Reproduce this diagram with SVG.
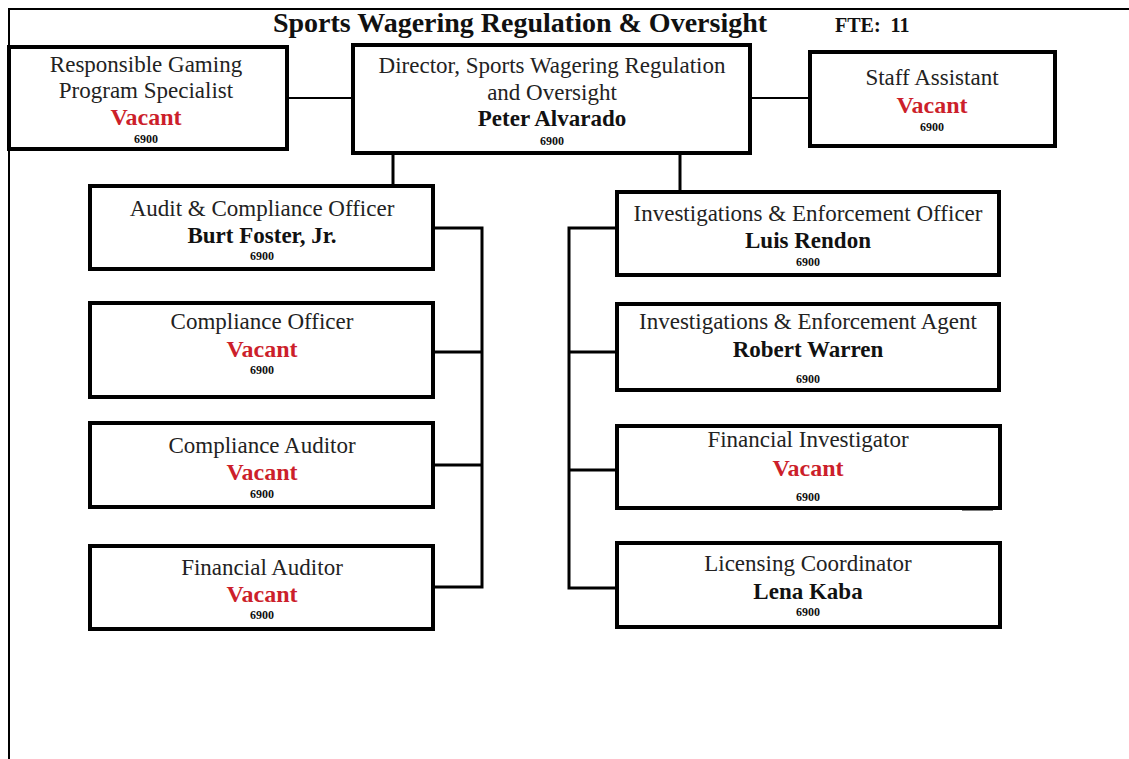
<svg xmlns="http://www.w3.org/2000/svg" width="1129" height="759" viewBox="0 0 1129 759">
<style>
.box{fill:#fff;stroke:#000;stroke-width:4}
.t{font-family:"Liberation Serif","Times New Roman",serif;font-size:23px;fill:#222;text-anchor:middle}
.n{font-family:"Liberation Serif","Times New Roman",serif;font-size:23px;font-weight:bold;fill:#111;text-anchor:middle}
.v{font-family:"Liberation Serif","Times New Roman",serif;font-size:24px;font-weight:bold;fill:#cc1f2b;text-anchor:middle}
.c{font-family:"Liberation Serif","Times New Roman",serif;font-size:12px;font-weight:bold;fill:#111;text-anchor:middle}
.ln{fill:none;stroke:#000;stroke-width:3}
.thin{fill:none;stroke:#000;stroke-width:2}
</style>
<rect width="1129" height="759" fill="#fff"/>
<g id="frame">
<path d="M1129 9 H9 V759" fill="none" stroke="#000" stroke-width="2"/>
</g>
<g id="title">
<text x="520" y="32" style="font-family:'Liberation Serif','Times New Roman',serif;font-size:28px;font-weight:bold;fill:#111;text-anchor:middle">Sports Wagering Regulation &amp; Oversight</text>
<text x="835" y="32" xml:space="preserve" style="font-family:'Liberation Serif','Times New Roman',serif;font-size:20px;font-weight:bold;fill:#111">FTE:  11</text>
</g>
<g id="connectors">
<line class="thin" x1="287" y1="98" x2="353" y2="98"/>
<line class="thin" x1="750" y1="98" x2="810" y2="98"/>
<line class="ln" x1="393" y1="153" x2="393" y2="186"/>
<line class="ln" x1="680" y1="153" x2="680" y2="192"/>
<path class="ln" d="M433 228 H482 V587 H433 M433 352 H482 M433 465 H482"/>
<path class="ln" d="M617 228 H569 V588 H617 M617 352 H569 M617 470 H569"/>
<line class="ln" x1="962" y1="509" x2="993" y2="509"/>
</g>
<g id="rg">
<rect class="box" x="9" y="47" width="278" height="102"/>
<text class="t" x="146" y="72">Responsible Gaming</text>
<text class="t" x="146" y="98">Program Specialist</text>
<text class="v" x="146" y="125">Vacant</text>
<text class="c" x="146" y="143">6900</text>
</g>
<g id="director">
<rect class="box" x="353" y="45" width="397" height="108"/>
<text class="t" x="552" y="73">Director, Sports Wagering Regulation</text>
<text class="t" x="552" y="100">and Oversight</text>
<text class="n" x="552" y="126">Peter Alvarado</text>
<text class="c" x="552" y="145">6900</text>
</g>
<g id="staff">
<rect class="box" x="810" y="52" width="245" height="94"/>
<text class="t" x="932" y="85">Staff Assistant</text>
<text class="v" x="932" y="113">Vacant</text>
<text class="c" x="932" y="131">6900</text>
</g>
<g id="audit">
<rect class="box" x="90" y="186" width="343" height="83"/>
<text class="t" x="262" y="216">Audit &amp; Compliance Officer</text>
<text class="n" x="262" y="243">Burt Foster, Jr.</text>
<text class="c" x="262" y="260">6900</text>
</g>
<g id="compofficer">
<rect class="box" x="90" y="303" width="343" height="94"/>
<text class="t" x="262" y="329">Compliance Officer</text>
<text class="v" x="262" y="357">Vacant</text>
<text class="c" x="262" y="374">6900</text>
</g>
<g id="compauditor">
<rect class="box" x="90" y="423" width="343" height="84"/>
<text class="t" x="262" y="453">Compliance Auditor</text>
<text class="v" x="262" y="480">Vacant</text>
<text class="c" x="262" y="498">6900</text>
</g>
<g id="finauditor">
<rect class="box" x="90" y="546" width="343" height="83"/>
<text class="t" x="262" y="575">Financial Auditor</text>
<text class="v" x="262" y="602">Vacant</text>
<text class="c" x="262" y="619">6900</text>
</g>
<g id="ieofficer">
<rect class="box" x="617" y="192" width="382" height="83"/>
<text class="t" x="808" y="221">Investigations &amp; Enforcement Officer</text>
<text class="n" x="808" y="248">Luis Rendon</text>
<text class="c" x="808" y="266">6900</text>
</g>
<g id="ieagent">
<rect class="box" x="617" y="304" width="382" height="86"/>
<text class="t" x="808" y="329">Investigations &amp; Enforcement Agent</text>
<text class="n" x="808" y="357">Robert Warren</text>
<text class="c" x="808" y="383">6900</text>
</g>
<g id="fininv">
<rect class="box" x="617" y="426" width="383" height="82"/>
<text class="t" x="808" y="447">Financial Investigator</text>
<text class="v" x="808" y="476">Vacant</text>
<text class="c" x="808" y="501">6900</text>
</g>
<g id="licensing">
<rect class="box" x="617" y="543" width="383" height="84"/>
<text class="t" x="808" y="571">Licensing Coordinator</text>
<text class="n" x="808" y="599">Lena Kaba</text>
<text class="c" x="808" y="616">6900</text>
</g>
</svg>
